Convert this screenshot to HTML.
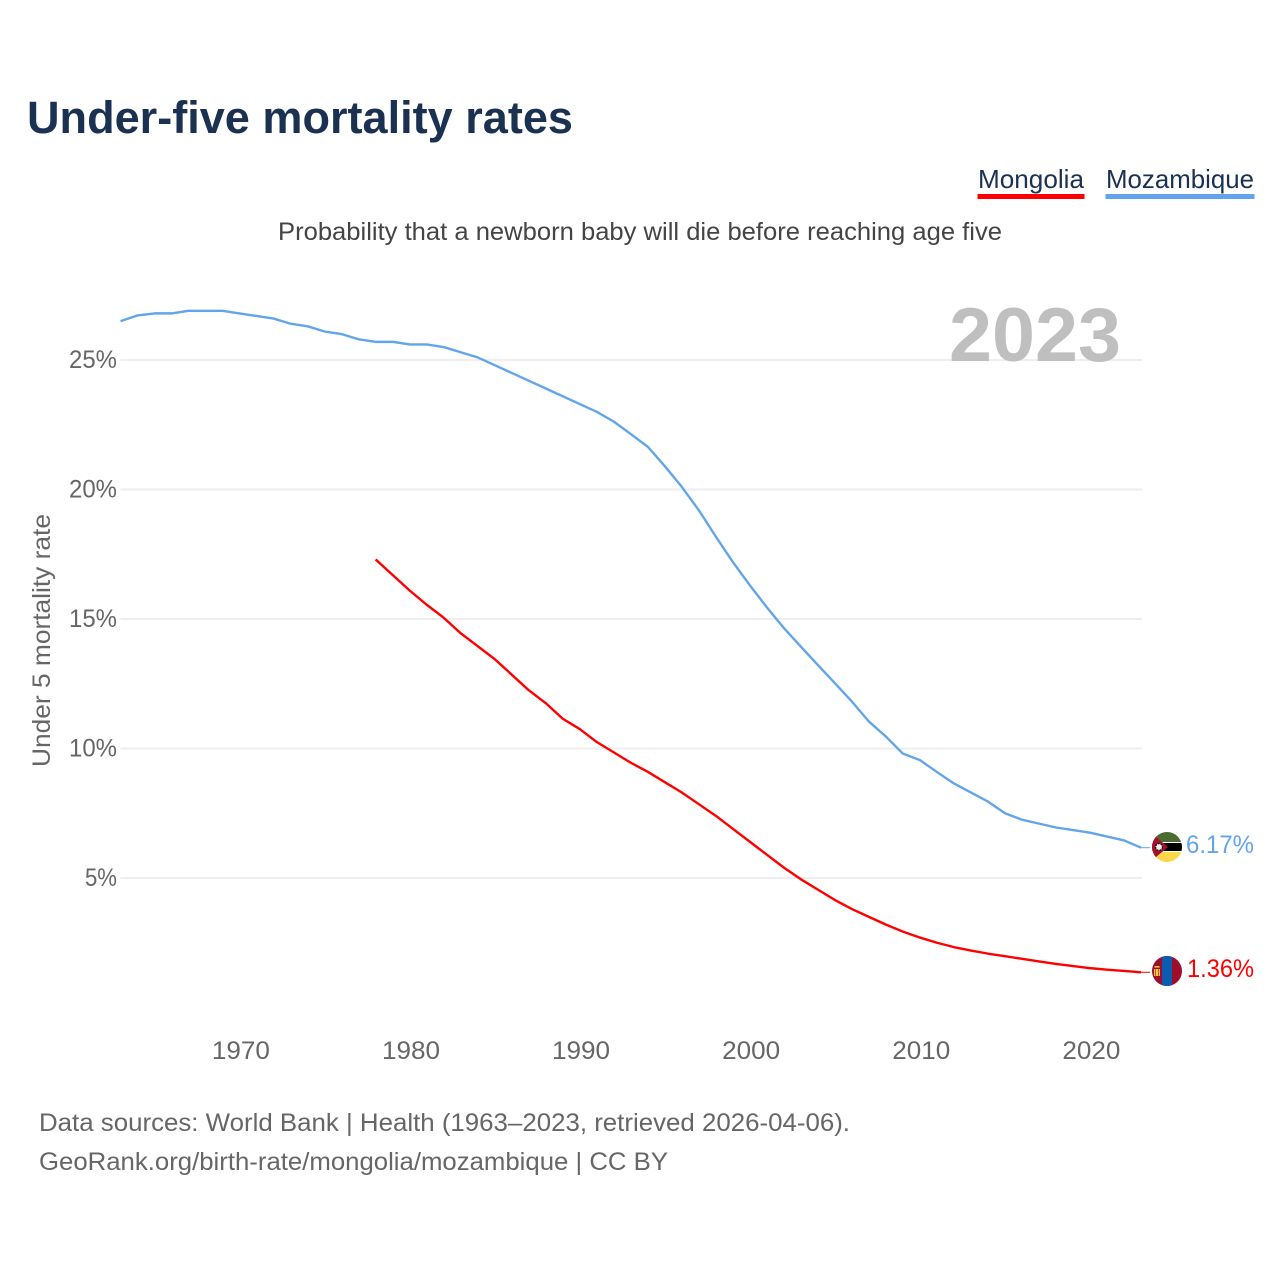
<!DOCTYPE html>
<html lang="en">
<head>
<meta charset="utf-8">
<title>Under-five mortality rates</title>
<style>
html,body{margin:0;padding:0;background:#fff;}
svg{display:block;font-family:"Liberation Sans",sans-serif;}
</style>
</head>
<body>
<svg id="chart" width="1280" height="1280" viewBox="0 0 1280 1280" xmlns="http://www.w3.org/2000/svg">
  <defs>
    <clipPath id="flag-clip-moz"><circle cx="1167" cy="847" r="15"/></clipPath>
    <clipPath id="flag-clip-mng"><circle cx="1167" cy="971" r="15"/></clipPath>
  </defs>
  <rect x="0" y="0" width="1280" height="1280" fill="#fff"/>
  <text x="27" y="133" font-size="45" font-weight="700" fill="#1a3152" textLength="546" lengthAdjust="spacingAndGlyphs">Under-five mortality rates</text>

  <g>
    <text x="978" y="188" font-size="26" fill="#1a3152" textLength="106" lengthAdjust="spacingAndGlyphs">Mongolia</text>
    <rect x="977.5" y="194" width="107" height="5" fill="#ff0000"/>
  </g>
  <g>
    <text x="1106" y="188" font-size="26" fill="#1a3152" textLength="148" lengthAdjust="spacingAndGlyphs">Mozambique</text>
    <rect x="1105.5" y="194" width="149" height="5" fill="#62a5eb"/>
  </g>

  <text x="278" y="240" font-size="25" fill="#444" textLength="724" lengthAdjust="spacingAndGlyphs">Probability that a newborn baby will die before reaching age five</text>

  <g id="grid"></g>

  <text x="949" y="361" font-size="76" font-weight="700" fill="#bfbfbf" textLength="172" lengthAdjust="spacingAndGlyphs">2023</text>

  <g id="y-ticks"></g>
  <g id="x-ticks"></g>
  <text transform="translate(50,767) rotate(-90)" x="0" y="0" font-size="25" fill="#666" textLength="253" lengthAdjust="spacingAndGlyphs">Under 5 mortality rate</text>

  <g id="series"></g>

  <g clip-path="url(#flag-clip-moz)">
    <rect x="1152" y="832" width="30" height="30" fill="#fff"/>
    <rect x="1152" y="832" width="30" height="10" fill="#4b6b30"/>
    <rect x="1152" y="843" width="30" height="8" fill="#000"/>
    <rect x="1152" y="852" width="30" height="10" fill="#fcd74a"/>
    <polygon points="1150,832 1168,847 1150,862" fill="#a8102e"/>
    <circle cx="1159" cy="847" r="3.5" fill="#eee" stroke="#111" stroke-width="1.4" stroke-dasharray="2 1"/>
  </g>
  <text x="1186" y="853" font-size="25" fill="#62a5eb" textLength="68" lengthAdjust="spacingAndGlyphs">6.17%</text>

  <g clip-path="url(#flag-clip-mng)">
    <rect x="1152" y="956" width="30" height="30" fill="#a00d28"/>
    <rect x="1162" y="956" width="10" height="30" fill="#0b5cb0"/>
    <rect x="1154.5" y="966" width="5" height="1.6" fill="#f3c948"/>
    <rect x="1154" y="969" width="1.4" height="7" fill="#f3c948"/>
    <rect x="1158.6" y="969" width="1.4" height="7" fill="#f3c948"/>
    <rect x="1156" y="969" width="2" height="7" fill="#f3c948"/>
  </g>
  <text x="1187" y="977" font-size="25" fill="#ff0000" textLength="67" lengthAdjust="spacingAndGlyphs">1.36%</text>

  <text x="39" y="1131" font-size="25" fill="#666" textLength="811" lengthAdjust="spacingAndGlyphs">Data sources: World Bank | Health (1963–2023, retrieved 2026-04-06).</text>
  <text x="39" y="1170" font-size="25" fill="#666" textLength="629" lengthAdjust="spacingAndGlyphs">GeoRank.org/birth-rate/mongolia/mozambique | CC BY</text>

<script>
var mozambiqueValues = [26.5,26.72,26.8,26.8,26.9,26.9,26.9,26.8,26.7,26.6,26.4,26.3,26.1,26.0,25.8,25.7,25.7,25.6,25.6,25.5,25.3,25.1,24.8,24.5,24.2,23.9,23.6,23.3,23.0,22.62,22.14,21.65,20.9,20.1,19.2,18.18,17.2,16.3,15.45,14.65,13.93,13.22,12.52,11.81,11.04,10.46,9.8,9.55,9.09,8.65,8.3,7.95,7.5,7.25,7.1,6.95,6.85,6.75,6.6,6.45,6.17];
var mozambiqueYears = [1963,1964,1965,1966,1967,1968,1969,1970,1971,1972,1973,1974,1975,1976,1977,1978,1979,1980,1981,1982,1983,1984,1985,1986,1987,1988,1989,1990,1991,1992,1993,1994,1995,1996,1997,1998,1999,2000,2001,2002,2003,2004,2005,2006,2007,2008,2009,2010,2011,2012,2013,2014,2015,2016,2017,2018,2019,2020,2021,2022,2023];
var mongoliaYears = [1978,1979,1980,1981,1982,1983,1984,1985,1986,1987,1988,1989,1990,1991,1992,1993,1994,1995,1996,1997,1998,1999,2000,2001,2002,2003,2004,2005,2006,2007,2008,2009,2010,2011,2012,2013,2014,2015,2016,2017,2018,2019,2020,2021,2022,2023];
var mongoliaValues = [17.3,16.7,16.1,15.55,15.05,14.45,13.95,13.45,12.85,12.25,11.75,11.15,10.75,10.25,9.85,9.45,9.1,8.7,8.3,7.85,7.4,6.9,6.4,5.9,5.4,4.95,4.55,4.15,3.8,3.5,3.2,2.93,2.7,2.5,2.33,2.2,2.08,1.98,1.88,1.78,1.68,1.6,1.52,1.46,1.41,1.36];
var yTickValues = [5,10,15,20,25];
var yTickLabels = ["5%","10%","15%","20%","25%"];
var xTickValues = [1970,1980,1990,2000,2010,2020];
var xTickLabels = ["1970","1980","1990","2000","2010","2020"];

function xScale(year){ return 120.5 + (year - 1963) * 17.01; }
function yScale(value){ return 1007.5 - value * 25.9; }
var NS = "http://www.w3.org/2000/svg";

function linePath(years, values){
  var d = "";
  for (var i = 0; i < values.length; i++) {
    d += (i ? "L" : "M") + xScale(years[i]).toFixed(2) + " " + yScale(values[i]).toFixed(2);
  }
  return d;
}

var grid = document.getElementById("grid");
var yTicks = document.getElementById("y-ticks");
var xTicks = document.getElementById("x-ticks");
var series = document.getElementById("series");

yTickValues.forEach(function(v, i){
  var g = document.createElementNS(NS, "line");
  
  
  g.setAttribute("x1", xScale(1963));
  g.setAttribute("x2", xScale(2023) + 1);
  g.setAttribute("y1", yScale(v));
  g.setAttribute("y2", yScale(v));
  g.setAttribute("stroke", "#eeeeee");
  g.setAttribute("stroke-width", "2");
  grid.appendChild(g);

  var t = document.createElementNS(NS, "text");
  
  
  t.setAttribute("x", 117);
  t.setAttribute("y", yScale(v) + 8);
  t.setAttribute("text-anchor", "end");
  t.setAttribute("font-size", "25");
  t.setAttribute("fill", "#666");
  t.setAttribute("textLength", yTickLabels[i].length * 16);
  t.setAttribute("lengthAdjust", "spacingAndGlyphs");
  t.textContent = yTickLabels[i];
  yTicks.appendChild(t);
});

xTickValues.forEach(function(v, i){
  var t = document.createElementNS(NS, "text");
  
  
  t.setAttribute("x", xScale(v) + 1.3);
  t.setAttribute("y", 1059);
  t.setAttribute("text-anchor", "middle");
  t.setAttribute("font-size", "25");
  t.setAttribute("fill", "#666");
  t.setAttribute("textLength", "58");
  t.setAttribute("lengthAdjust", "spacingAndGlyphs");
  t.textContent = xTickLabels[i];
  xTicks.appendChild(t);
});

var mozLine = document.createElementNS(NS, "path");


mozLine.setAttribute("d", linePath(mozambiqueYears, mozambiqueValues));
mozLine.setAttribute("fill", "none");
mozLine.setAttribute("stroke", "#62a5eb");
mozLine.setAttribute("stroke-width", "2.4");
mozLine.setAttribute("stroke-linejoin", "round");
series.appendChild(mozLine);

var mngLine = document.createElementNS(NS, "path");


mngLine.setAttribute("d", linePath(mongoliaYears, mongoliaValues));
mngLine.setAttribute("fill", "none");
mngLine.setAttribute("stroke", "#ff0000");
mngLine.setAttribute("stroke-width", "2.4");
mngLine.setAttribute("stroke-linejoin", "round");
series.appendChild(mngLine);

var mozConn = document.createElementNS(NS, "line");


mozConn.setAttribute("x1", xScale(2023));
mozConn.setAttribute("x2", xScale(2023) + 9);
mozConn.setAttribute("y1", yScale(mozambiqueValues[mozambiqueValues.length - 1]));
mozConn.setAttribute("y2", yScale(mozambiqueValues[mozambiqueValues.length - 1]));
mozConn.setAttribute("stroke", "#62a5eb");
mozConn.setAttribute("stroke-width", "1");
series.appendChild(mozConn);

var mngConn = document.createElementNS(NS, "line");


mngConn.setAttribute("x1", xScale(2023));
mngConn.setAttribute("x2", xScale(2023) + 9);
mngConn.setAttribute("y1", yScale(mongoliaValues[mongoliaValues.length - 1]));
mngConn.setAttribute("y2", yScale(mongoliaValues[mongoliaValues.length - 1]));
mngConn.setAttribute("stroke", "#ff0000");
mngConn.setAttribute("stroke-width", "1");
series.appendChild(mngConn);
</script>
</svg>
</body>
</html>
